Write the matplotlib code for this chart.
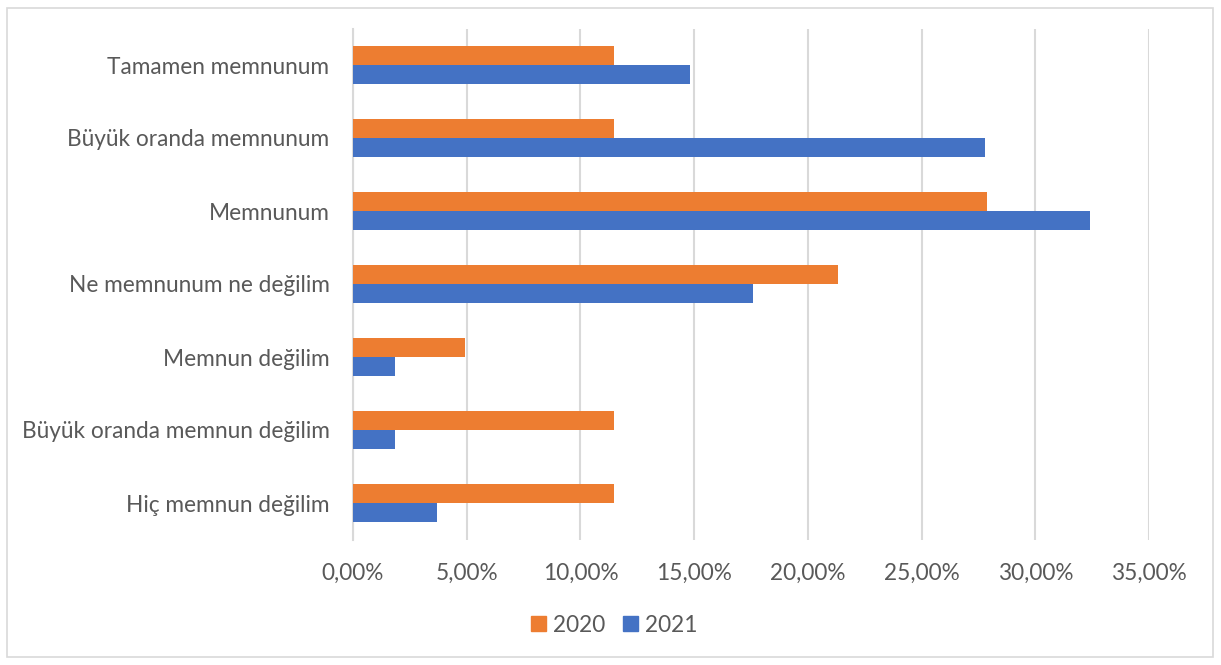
import matplotlib
matplotlib.use("Agg")
import matplotlib.pyplot as plt
from matplotlib.patches import Rectangle, Patch
from matplotlib.ticker import FuncFormatter

plt.rcParams['font.family'] = ['Lato', 'DejaVu Sans']

# categories from top to bottom as in the chart
categories = ["Tamamen memnunum", "Büyük oranda memnunum", "Memnunum",
              "Ne memnunum ne değilim", "Memnun değilim",
              "Büyük oranda memnun değilim", "Hiç memnun değilim"]
values_2020 = [11.48, 11.48, 27.87, 21.31, 4.92, 11.48, 11.48]
values_2021 = [14.81, 27.78, 32.41, 17.59, 1.85, 1.85, 3.70]
xticks = [0, 5, 10, 15, 20, 25, 30, 35]

orange = '#ED7D31'
blue = '#4472C4'
text_color = '#595959'
grid_color = '#D9D9D9'

W, H = 1221, 665
fig = plt.figure(figsize=(W / 100, H / 100), dpi=100)

# outer chart frame
fig.patches.append(Rectangle((7 / W, 8 / H), (1213 - 7) / W, (657 - 8) / H,
                             transform=fig.transFigure, fill=False,
                             edgecolor=grid_color, linewidth=1.2))

ax = fig.add_axes([353 / W, 1 - 539.5 / H, (1149 - 353) / W, (539.5 - 28.5) / H])

n = len(categories)
pos = [n - 1 - i for i in range(n)]
bh = 0.26
ax.barh([p + bh / 2 for p in pos], values_2020, height=bh, color=orange,
        label='2020', zorder=3)
ax.barh([p - bh / 2 for p in pos], values_2021, height=bh, color=blue,
        label='2021', zorder=3)

ax.set_ylim(-0.5, n - 0.5)
ax.set_xlim(0, 35)
ax.set_yticks(pos)
ax.set_yticklabels(categories)
ax.set_xticks(xticks)
ax.xaxis.set_major_formatter(FuncFormatter(lambda v, _: f"{v:.2f}%".replace('.', ',')))

ax.grid(axis='x', color=grid_color, linewidth=1.5, zorder=0)
for s in ['top', 'right', 'bottom']:
    ax.spines[s].set_visible(False)
ax.spines['left'].set_color(grid_color)
ax.spines['left'].set_linewidth(1.5)
ax.tick_params(axis='both', length=0, colors=text_color, labelsize=16.3)
ax.tick_params(axis='y', pad=17)
ax.tick_params(axis='x', pad=17)

handles = [Patch(color=orange, label='2020'), Patch(color=blue, label='2021')]
leg = fig.legend(handles=handles, loc='center', bbox_to_anchor=(0.503, 1 - 625 / H),
                 ncol=2, frameon=False, handlelength=0.65, handleheight=0.65,
                 handletextpad=0.3, columnspacing=0.8, fontsize=16.3)
for t in leg.get_texts():
    t.set_color(text_color)

fig.savefig('out.png', dpi=100)
